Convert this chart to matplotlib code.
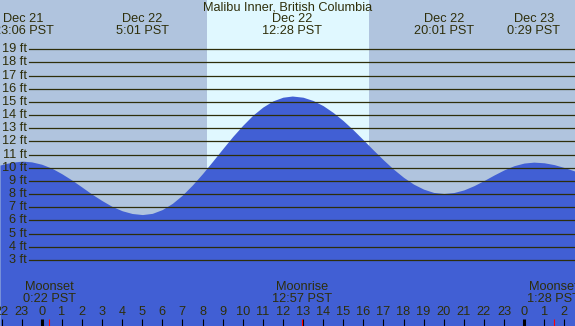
import matplotlib
matplotlib.use("Agg")
import matplotlib.pyplot as plt
import numpy as np

# cores
cor_fundo = "#b0c4de"   # noite
cor_dia = "#e0f8ff"     # dia
cor_mare = "#415fd4"    # agua
cor_texto = "#2e2e0a"
cor_linha = "#2e2e0a"
cor_lua = "#ff0000"

# dados (horas a partir de Dec 22 0:00, altura em ft), a cada meia hora
horas = [-2.075, -2, -1.5, -1, -0.9, -0.5, 0, 0.5, 1, 1.5, 2, 2.5, 3, 3.5, 4, 4.5, 5, 5.017,
         5.5, 6, 6.5, 7, 7.5, 8, 8.5, 9, 9.5, 10, 10.5, 11, 11.5, 12, 12.467,
         13, 13.5, 14, 14.5, 15, 15.5, 16, 16.5, 17, 17.5, 18, 18.5, 19, 19.5, 20, 20.017,
         20.5, 21, 21.5, 22, 22.5, 23, 23.5, 24, 24.483, 25, 25.5, 26, 26.53]
alturas = [10.21, 10.24, 10.42, 10.50, 10.50, 10.45, 10.27, 9.97, 9.55, 9.07, 8.54, 8.00,
           7.51, 7.07, 6.74, 6.53, 6.45, 6.45,
           6.54, 6.83, 7.30, 7.93, 8.70, 9.56, 10.49, 11.44, 12.37, 13.22, 13.99, 14.61,
           15.08, 15.36, 15.45,
           15.36, 15.11, 14.72, 14.20, 13.58, 12.88, 12.12, 11.35, 10.60, 9.90, 9.28, 8.76,
           8.38, 8.13, 8.05, 8.05,
           8.12, 8.32, 8.64, 9.03, 9.45, 9.84, 10.16, 10.36, 10.43, 10.38, 10.24, 10.02, 9.75]

# extremos da mare (hora, texto)
extremos_hora = [-0.9, 5.017, 12.467, 20.017, 24.483]
extremos_texto = ["Dec 21\n23:06 PST", "Dec 22\n5:01 PST", "Dec 22\n12:28 PST",
                  "Dec 22\n20:01 PST", "Dec 23\n0:29 PST"]

# lua
lua_hora = [0.367, 12.95, 25.467]
lua_texto = ["Moonset\n0:22 PST", "Moonrise\n12:57 PST", "Moonset\n1:28 PST"]

nascer_sol = 8.22
por_sol = 16.28

niveis = list(range(3, 20))
horas_ticks = list(range(-2, 27))
meias_noites = [0, 24]

titulo = "Malibu Inner, British Columbia"

# figura ----------------------------------------------------------------
W, H = 575, 326
fig = plt.figure(figsize=(W / 100, H / 100), dpi=100)
fig.patch.set_facecolor(cor_fundo)
ax = fig.add_axes([0, 0, 1, 1])
ax.set_facecolor(cor_fundo)

x0 = 41.7      # pixel da meia noite
px_h = 20.1    # pixels por hora
y0 = 299.5     # pixel do 0 ft
px_ft = 13.17  # pixels por ft
ax.set_xlim(-x0 / px_h, (W - x0) / px_h)
ax.set_ylim((y0 - H) / px_ft, y0 / px_ft)
ax.axis("off")

fonte = "Liberation Sans"
tam = 9.2

def fy(py):
    # pixel y (de cima) -> fracao do eixo
    return 1 - py / H

trans = ax.get_xaxis_transform()

# faixa do dia
ax.axvspan(nascer_sol, por_sol, color=cor_dia, zorder=1, lw=0)

# mare
ax.fill_between(horas, alturas, (y0 - H) / px_ft - 1, color=cor_mare, lw=0, zorder=2)

# linhas horizontais e rotulos
for n in niveis:
    ax.axhline(n, xmin=29 / W, xmax=1, color=cor_linha, lw=0.9, zorder=3)
    ax.text(27 / px_h - x0 / px_h, n, "%d ft" % n, ha="right", va="center",
            fontsize=tam, family=fonte, color=cor_texto, zorder=4)

# titulo
fig.text(0.5, fy(7), titulo, ha="center", va="center", fontsize=tam, family=fonte,
         color=cor_texto)

# textos dos extremos
for h, t in zip(extremos_hora, extremos_texto):
    linhas = t.split("\n")
    ax.text(h, fy(19.5), linhas[0], transform=trans, ha="center", va="center",
            fontsize=tam, family=fonte, color=cor_texto)
    ax.text(h, fy(31.5), linhas[1], transform=trans, ha="center", va="center",
            fontsize=tam, family=fonte, color=cor_texto)

# textos da lua
for h, t in zip(lua_hora, lua_texto):
    linhas = t.split("\n")
    ax.text(h, fy(287.5), linhas[0], transform=trans, ha="center", va="center",
            fontsize=tam, family=fonte, color=cor_texto, zorder=5)
    ax.text(h, fy(299.5), linhas[1], transform=trans, ha="center", va="center",
            fontsize=tam, family=fonte, color=cor_texto, zorder=5)

# marcas das horas
for h in horas_ticks:
    lw = 2.2 if h in meias_noites else 0.8
    ax.plot([h, h], [fy(318.5), fy(326)], transform=trans, color="black", lw=lw,
            solid_capstyle="butt", zorder=5)
    ax.text(h, fy(312), str(h % 24), transform=trans, ha="center", va="center",
            fontsize=tam, family=fonte, color=cor_texto, zorder=5)

for h in lua_hora:
    ax.plot([h, h], [fy(318.5), fy(326)], transform=trans, color=cor_lua, lw=0.8,
            solid_capstyle="butt", zorder=6)

fig.savefig("out.png", dpi=100, facecolor=cor_fundo)
